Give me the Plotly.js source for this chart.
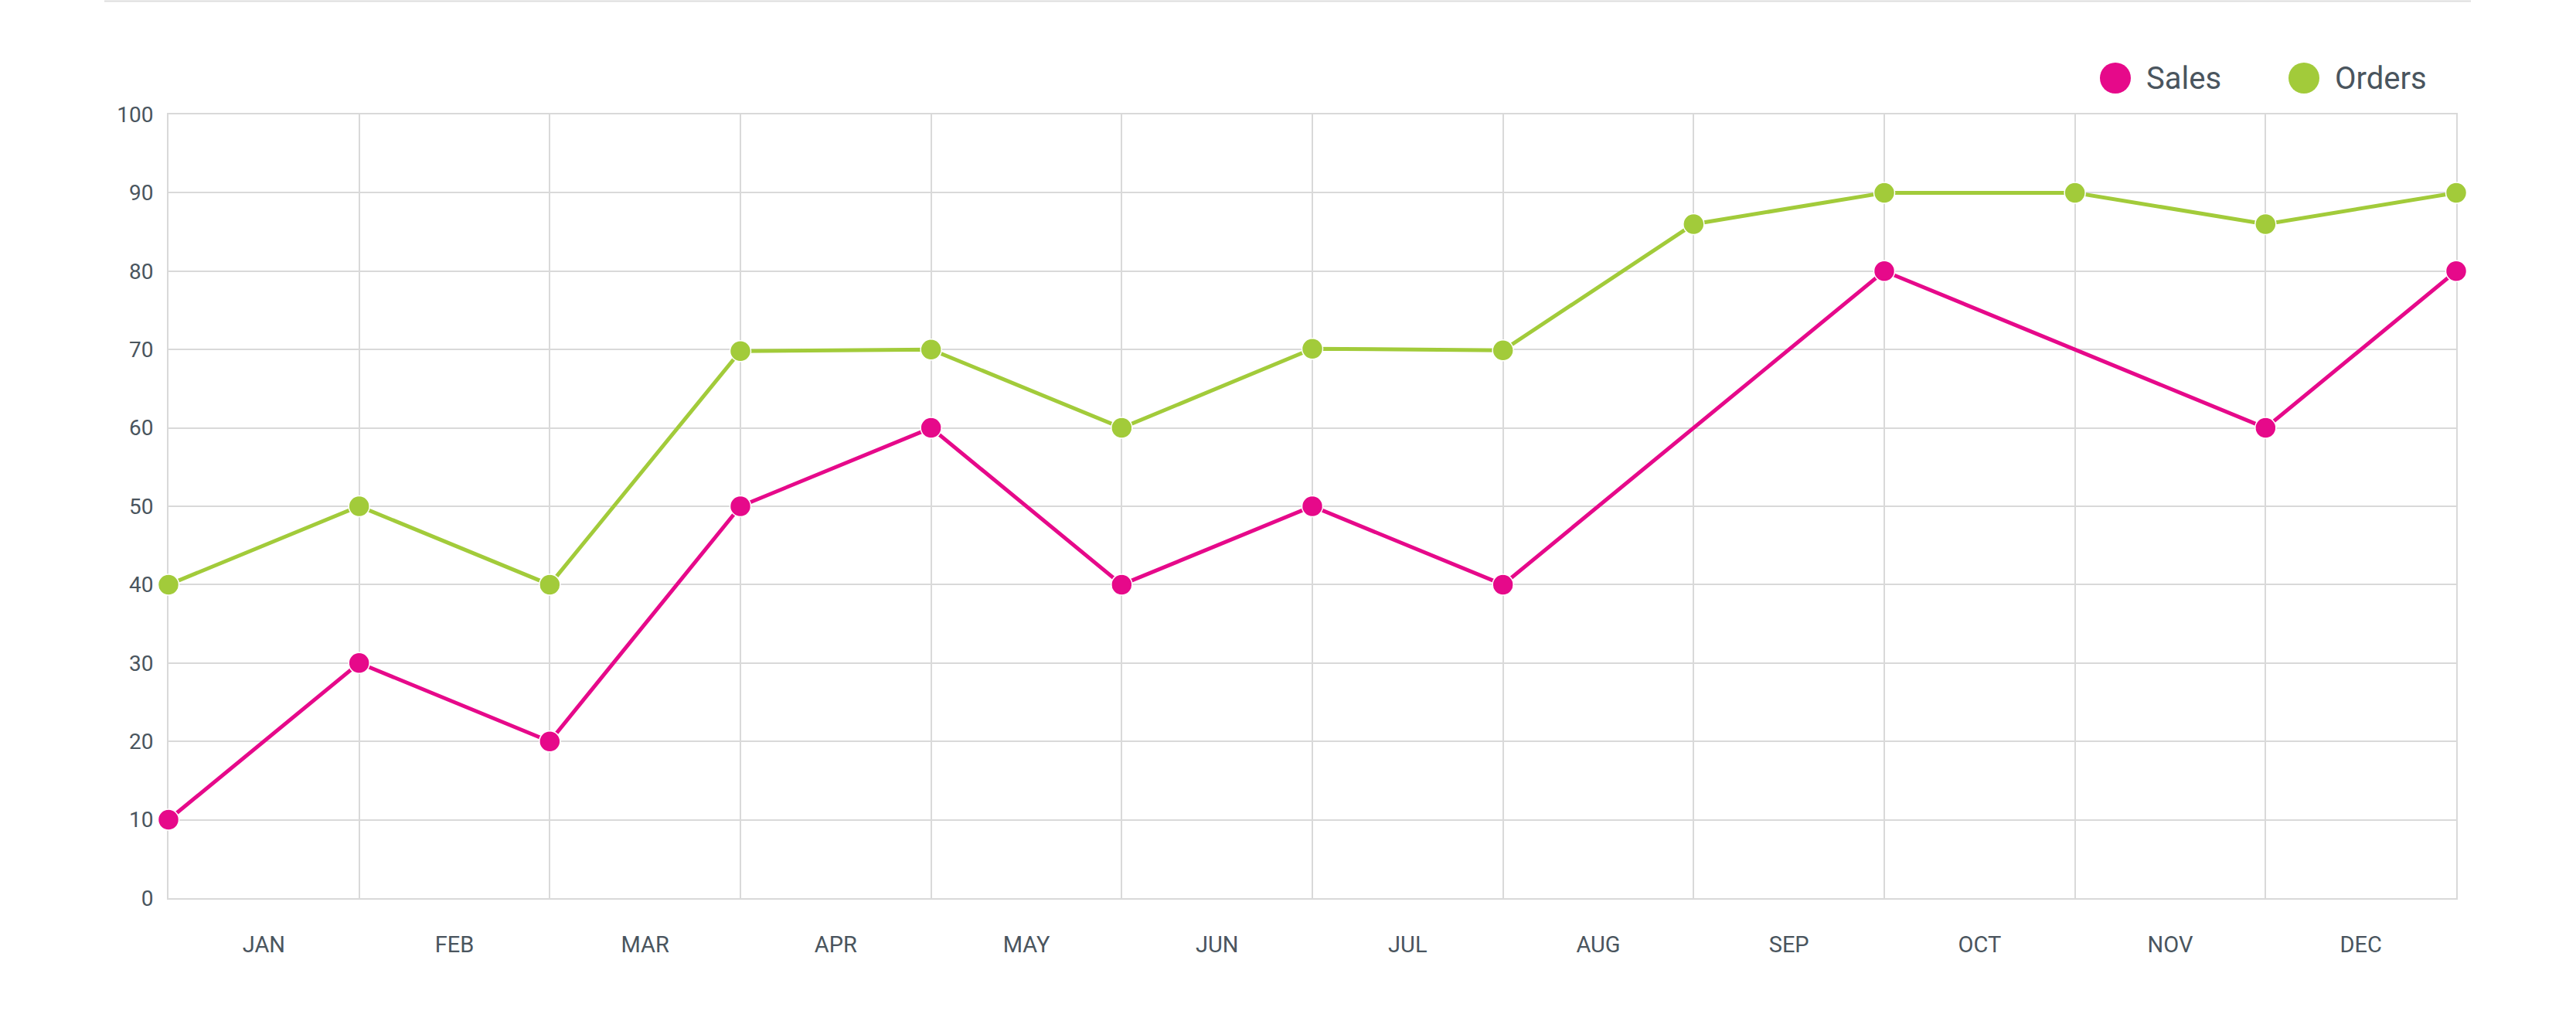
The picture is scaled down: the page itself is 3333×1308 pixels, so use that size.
<!DOCTYPE html>
<html>
<head>
<meta charset="utf-8">
<script src="https://cdn.plot.ly/plotly-3.0.1.min.js"></script>
<style>
  html, body { margin: 0; padding: 0; background: #fff; }
  #graph { width: 3333px; height: 1308px; }
</style>
</head>
<body>
<div id="graph"></div>
<script>
/* ---------------- chart data ---------------- */

var months = ['JAN', 'FEB', 'MAR', 'APR', 'MAY', 'JUN', 'JUL', 'AUG', 'SEP', 'OCT', 'NOV', 'DEC'];
var points = [0, 1, 2, 3, 4, 5, 6, 7, 8, 9, 10, 11, 12]; // one point per gridline
var sales = [10, 30, 20, 50, 60, 40, 50, 40, null, 80, null, 60, 80];
var orders = [40, 50, 40, 69.8, 70, 60, 70.1, 69.9, 86, 90, 90, 86, 90];

var seriesNames = ['Sales', 'Orders'];
var seriesColors = ['#e6098a', '#a2cb3a'];

var gridColor = '#d9d9d9';
var textColor = '#4a555e';

/* ---------------- traces ---------------- */

function lineTrace(values, i) {
    return {
        x: points,
        y: values,
        name: seriesNames[i],
        mode: 'lines+markers',
        connectgaps: true,
        cliponaxis: false,
        line: { color: seriesColors[i], width: 5 },
        marker: {
            color: seriesColors[i],
            size: 27,
            line: { color: '#ffffff', width: 1.5 }
        },
        showlegend: false,
        hoverinfo: 'skip'
    };
}

var data = [lineTrace(sales, 0), lineTrace(orders, 1)];

// month labels sit between the gridlines
var labelPos = months.map(function(m, i) { return i + 0.5; });

/* ---------------- legend (drawn by hand, big dots) ---------------- */

var plotW = 3333 - 218 - 155;
var plotH = 1308 - 148 - 146;
var legendY = 1 + (148 - 101) / plotH;
var legendStart = [2737, 2981]; // dot centres in px
var shapes = [];
var annotations = [];

seriesNames.forEach(function(name, i) {
    var cx = (legendStart[i] - 218) / plotW;
    shapes.push({
        type: 'circle',
        xref: 'paper', yref: 'paper',
        xsizemode: 'pixel', ysizemode: 'pixel',
        xanchor: cx, yanchor: legendY,
        x0: -20, x1: 20, y0: -20, y1: 20,
        fillcolor: seriesColors[i],
        line: { width: 0 }
    });
    annotations.push({
        xref: 'paper', yref: 'paper',
        x: cx, y: legendY,
        xshift: 38,
        xanchor: 'left', yanchor: 'middle',
        text: name,
        showarrow: false,
        font: { family: 'Roboto', size: 40, color: textColor }
    });
});

// thin card border along the top
shapes.push({
    type: 'line',
    xref: 'paper', yref: 'paper',
    x0: (135 - 218) / plotW, x1: (3197 - 218) / plotW,
    y0: 1 + (148 - 1.5) / plotH, y1: 1 + (148 - 1.5) / plotH,
    line: { color: '#dddddd', width: 2 }
});

/* ---------------- layout ---------------- */

var layout = {
    width: 3333,
    height: 1308,
    margin: { l: 218, r: 155, t: 148, b: 146 },
    paper_bgcolor: '#ffffff',
    plot_bgcolor: '#ffffff',
    font: { family: 'Roboto', size: 28, color: textColor },
    showlegend: false,
    xaxis: {
        range: [0, 12],
        autorange: false,
        layer: 'below traces',
        tickmode: 'array',
        tickvals: labelPos,
        ticktext: months,
        ticks: '',
        showgrid: false,
        zeroline: false,
        showline: true,
        mirror: true,
        linecolor: gridColor,
        linewidth: 2,
        ticklabelstandoff: 33,
        tickfont: { family: 'Roboto', size: 29, color: textColor },
        minor: {
            tickmode: 'array',
            tickvals: points,
            showgrid: true,
            gridcolor: gridColor,
            gridwidth: 2,
            ticks: ''
        }
    },
    yaxis: {
        range: [0, 100],
        autorange: false,
        layer: 'below traces',
        tickmode: 'linear',
        tick0: 0,
        dtick: 10,
        ticks: '',
        showgrid: true,
        gridcolor: gridColor,
        gridwidth: 2,
        zeroline: false,
        showline: true,
        mirror: true,
        linecolor: gridColor,
        linewidth: 2,
        ticklabelstandoff: 12,
        tickfont: { family: 'Roboto', size: 28, color: textColor }
    },
    shapes: shapes,
    annotations: annotations
};

var graph = document.getElementById('graph');
Plotly.newPlot(graph, data, layout, { staticPlot: true });
</script>
</body>
</html>
